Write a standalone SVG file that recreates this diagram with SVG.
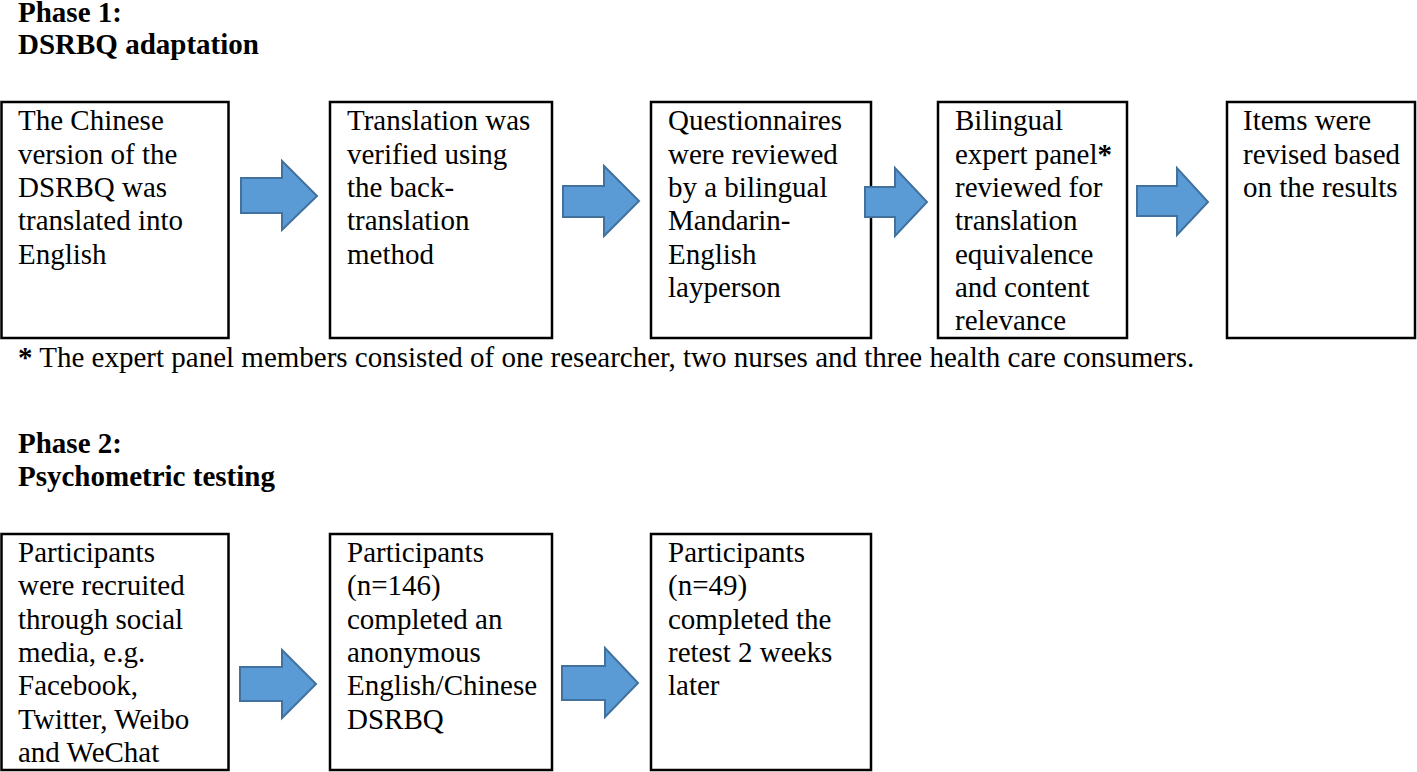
<svg xmlns="http://www.w3.org/2000/svg" width="1417" height="772" viewBox="0 0 1417 772">
<style>
text{font-family:"Liberation Serif","Times New Roman",serif;font-size:29px;fill:#000}
.h{font-weight:bold}
.b{font-weight:bold}
.box{fill:#fff;stroke:#000;stroke-width:2.5}
.arr{fill:#5B9BD5;stroke:#41719C;stroke-width:2}
</style>
<rect width="1417" height="772" fill="#fff"/>
<g id="headers">
<text class="h" x="18" y="22">Phase 1:</text>
<text class="h" x="18" y="54">DSRBQ adaptation</text>
<text class="h" x="18" y="453">Phase 2:</text>
<text class="h" x="18" y="486">Psychometric testing</text>
<text x="18" y="367"><tspan class="b">*</tspan> The expert panel members consisted of one researcher, two nurses and three health care consumers.</text>
</g>
<g id="p1n1"><rect class="box" x="1.5" y="102" width="227" height="236"/>
<text x="18" y="130">The Chinese</text><text x="18" y="163.5">version of the</text><text x="18" y="197">DSRBQ was</text><text x="18" y="230">translated into</text><text x="18" y="263.5">English</text></g>
<g id="p1n2"><rect class="box" x="330" y="102" width="222" height="236"/>
<text x="347" y="130">Translation was</text><text x="347" y="163.5">verified using</text><text x="347" y="197">the back-</text><text x="347" y="230">translation</text><text x="347" y="263.5">method</text></g>
<g id="p1n3"><rect class="box" x="651" y="102" width="220" height="236"/>
<text x="668" y="130">Questionnaires</text><text x="668" y="163.5">were reviewed</text><text x="668" y="197">by a bilingual</text><text x="668" y="230">Mandarin-</text><text x="668" y="263.5">English</text><text x="668" y="297">layperson</text></g>
<g id="p1n4"><rect class="box" x="938" y="102" width="189" height="236"/>
<text x="955" y="130">Bilingual</text><text x="955" y="163.5">expert panel<tspan class="b">*</tspan></text><text x="955" y="197">reviewed for</text><text x="955" y="230">translation</text><text x="955" y="263.5">equivalence</text><text x="955" y="297">and content</text><text x="955" y="330">relevance</text></g>
<g id="p1n5"><rect class="box" x="1227" y="102" width="188" height="236"/>
<text x="1243" y="130">Items were</text><text x="1243" y="163.5">revised based</text><text x="1243" y="197">on the results</text></g>
<g id="p2n1"><rect class="box" x="1.5" y="534" width="227" height="236"/>
<text x="18" y="562">Participants</text><text x="18" y="595">were recruited</text><text x="18" y="629">through social</text><text x="18" y="662">media, e.g.</text><text x="18" y="695">Facebook,</text><text x="18" y="729">Twitter, Weibo</text><text x="18" y="762">and WeChat</text></g>
<g id="p2n2"><rect class="box" x="330" y="534" width="222" height="236"/>
<text x="347" y="562">Participants</text><text x="347" y="595">(n=146)</text><text x="347" y="629">completed an</text><text x="347" y="662">anonymous</text><text x="347" y="695">English/Chinese</text><text x="347" y="729">DSRBQ</text></g>
<g id="p2n3"><rect class="box" x="651" y="534" width="220" height="236"/>
<text x="668" y="562">Participants</text><text x="668" y="595">(n=49)</text><text x="668" y="629">completed the</text><text x="668" y="662">retest 2 weeks</text><text x="668" y="695">later</text></g>
<g id="connectors">
<polygon class="arr" points="241,178 282,178 282,161 317,196 282,230 282,213 241,213"/>
<polygon class="arr" points="563,186 604,186 604,166 639,201 604,236 604,217 563,217"/>
<polygon class="arr" points="865,187 895,187 895,168 927,202 895,236 895,217 865,217"/>
<polygon class="arr" points="1137,186 1177,186 1177,168 1208,202 1177,235 1177,216 1137,216"/>
<polygon class="arr" points="240,667 282,667 282,650 316,684 282,718 282,701 240,701"/>
<polygon class="arr" points="562,666 605,666 605,648 638,683 605,717 605,700 562,700"/>
</g>
</svg>
